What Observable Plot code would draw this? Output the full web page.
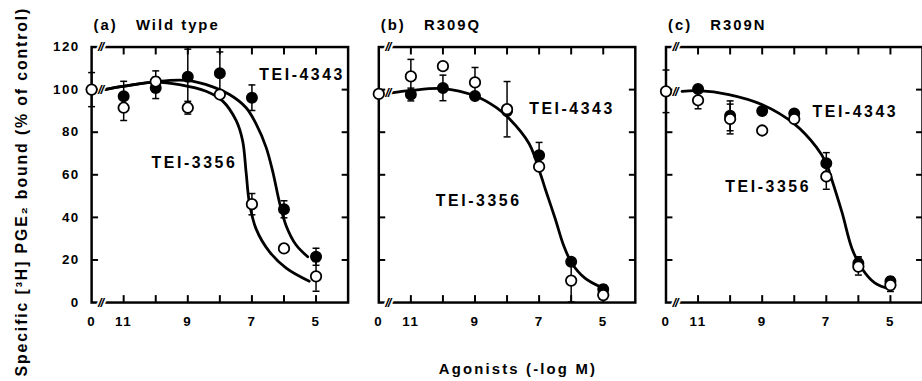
<!DOCTYPE html>
<html><head><meta charset="utf-8">
<script src="https://cdn.jsdelivr.net/npm/d3@7"></script>
<script src="https://cdn.jsdelivr.net/npm/@observablehq/plot@0.6"></script>
<style>
html,body{margin:0;padding:0;background:#fff;overflow:hidden;width:922px;height:381px}
#chart svg text{letter-spacing:1.5px}
#chart g[aria-description="lbl"] text{letter-spacing:2.6px}
#chart g[aria-description="ttl"] text{letter-spacing:2px}
#chart g[aria-description="ylab"] text{letter-spacing:1.9px}
#chart g[aria-description="xlab"] text{letter-spacing:2.2px}
#chart g[aria-description="brk"] text{letter-spacing:-1px}
</style></head><body><div id="chart"></div>
<script>
// ---- data ----
const panels = ["a", "b", "c"];
const titles = ["(a)\u00a0\u00a0 Wild type", "(b)\u00a0\u00a0 R309Q", "(c)\u00a0\u00a0 R309N"];
const doses = [12, 11, 10, 9, 8, 7, 6, 5]; // 12 = the "0" (no agonist) position after the axis break
const xTicks = [11, 10, 9, 8, 7, 6, 5];
const xTickLabels = [12, 11, 9, 7, 5];
const yTicks = [0, 20, 40, 60, 80, 100, 120];
const compounds = ["TEI-4343", "TEI-3356"]; // filled, open

// panel (a) Wild type
const a4343 = [null, 96.9, 100.8, 106, 107.7, 96.2, 43.8, 21.5];
const a4343Err = [0, 7, 5, 13, 10, 6, 4, 4];
const a3356 = [100, 91.5, 103.8, 91.5, 97.7, 46.2, 25.4, 12.3];
const a3356Err = [8, 6, 5, 3, 0, 5, 0, 7];
// panel (b) R309Q
const b4343 = [null, 97.7, 100.8, 97, 90, 69.2, 19.2, 6.2];
const b4343Err = [0, 3, 6, 0, 0, 6, 0, 2];
const b3356 = [98, 106.2, 111, 103.4, 90.8, 63.8, 10.3, 3.5];
const b3356Err = [0, 8, 0, 7, 13, 0, 10, 2];
// panel (c) R309N
const c4343 = [null, 100.3, 87.7, 90, 88.8, 65.4, 18.5, 10];
const c4343Err = [0, 0, 7, 0, 0, 5, 3, 2];
const c3356 = [99.2, 95, 86.2, 80.8, 86.2, 59.2, 16.9, 8.2];
const c3356Err = [10, 4, 7, 0, 0, 6, 4, 3];

// fitted curves
const aCurve4343X = [11.6, 11.03, 9.98, 9.04, 8.22, 7.7, 7.18, 6.87, 6.56, 6.35, 6.14, 5.93, 5.62, 5.26];
const aCurve4343Y = [100, 101.5, 103.8, 104.3, 101.3, 97.7, 91.5, 83.9, 73, 61.5, 47, 36, 27, 21.5];
const aCurve3356X = [11.6, 11.03, 9.98, 9.26, 8.43, 7.91, 7.49, 7.29, 7.18, 7.08, 6.87, 6.45, 5.93, 5.21];
const aCurve3356Y = [100, 101.5, 103.5, 102.3, 99.2, 94.6, 85.4, 76, 61, 47, 34.6, 23.8, 16.2, 10];
const bCurveX = [11.6, 11.03, 10.01, 8.99, 8.33, 7.92, 7.31, 6.95, 6.8, 6.49, 6.24, 5.98, 5.57, 5.06];
const bCurveY = [98.5, 99.5, 100.5, 97, 91.5, 86.2, 74.6, 60, 53, 39, 27, 18.5, 11.5, 7.2];
const cCurveX = [11.5, 11.0, 10.04, 9.01, 8.0, 7.31, 7.0, 6.86, 6.51, 6.2, 5.9, 5.49, 4.99];
const cCurveY = [99.2, 99.5, 97.7, 93, 83.9, 73, 65.4, 59.2, 42.3, 25.4, 16.2, 9.2, 6.2];

// curve labels
const labelPanel = ["a", "a", "b", "b", "c", "c"];
const labelText = ["TEI-4343", "TEI-3356", "TEI-4343", "TEI-3356", "TEI-4343", "TEI-3356"];
const labelX = [6.77, 10.13, 7.31, 10.22, 7.43, 10.15];
const labelY = [107, 65.5, 91, 47.7, 89.5, 54.3];

// axis-break positions
const breakX = 11.72;
const curveBreakY = [100, 98.3, 99];

// ---- build tables ----
const series = {
  a: [[a4343, a4343Err], [a3356, a3356Err]],
  b: [[b4343, b4343Err], [b3356, b3356Err]],
  c: [[c4343, c4343Err], [c3356, c3356Err]]
};
const points = [];
for (const p of panels) {
  series[p].forEach(([vals, errs], k) => {
    vals.forEach((v, i) => {
      if (v != null) points.push({panel: p, compound: compounds[k], filled: k === 0, dose: doses[i], value: v, err: errs[i]});
    });
  });
}
const errRows = points.filter(d => d.err > 0);
const capRows = errRows.flatMap(d => [{...d, y: d.value - d.err}, {...d, y: d.value + d.err}]);

const curves = [];
const addCurve = (panel, name, xs, ys) => xs.forEach((x, i) => curves.push({panel, name: panel + name, x, y: ys[i]}));
addCurve("a", "4343", aCurve4343X, aCurve4343Y);
addCurve("a", "3356", aCurve3356X, aCurve3356Y);
addCurve("b", "fit", bCurveX, bCurveY);
addCurve("c", "fit", cCurveX, cCurveY);

const labels = labelText.map((t, i) => ({panel: labelPanel[i], text: t, x: labelX[i], y: labelY[i]}));
const axisBreaks = panels.flatMap(p => [{panel: p, y: 0}, {panel: p, y: 120}]);
const curveBreaks = panels.map((p, i) => ({panel: p, y: curveBreakY[i]}));

const capSymbol = {draw(context) { context.moveTo(-3.5, 0); context.lineTo(3.5, 0); }};
const font = "'Liberation Sans', Arial, Helvetica, sans-serif";

const chart = Plot.plot({
  width: 931,
  height: 381,
  marginLeft: 92,
  marginRight: 0,
  marginTop: 47,
  marginBottom: 76,
  style: {fontFamily: font, fontWeight: "bold", fontSize: "13px", color: "black", background: "white"},
  fx: {domain: panels, paddingInner: 0.1069, paddingOuter: 0, axis: null},
  x: {domain: [12, 4], axis: null},
  y: {domain: [0, 120], axis: null},
  marks: [
    Plot.frame({strokeWidth: 2.5}),
    // inward ticks on all sides
    Plot.axisX({anchor: "bottom", ticks: xTicks, tickSize: -7, text: null, strokeWidth: 2}),
    Plot.axisX({anchor: "top", ticks: xTicks, tickSize: -7, text: null, strokeWidth: 2}),
    Plot.axisY({anchor: "left", ticks: yTicks.slice(1, -1), tickSize: -7, text: null, strokeWidth: 2, facetAnchor: null}),
    Plot.axisY({anchor: "right", ticks: yTicks.slice(1, -1), tickSize: -7, text: null, strokeWidth: 2, facetAnchor: null}),
    // tick labels
    Plot.axisX({anchor: "bottom", ticks: xTickLabels, tickSize: 0, tickPadding: 14, label: null,
      tickFormat: d => d === 12 ? "0" : String(d), fontSize: 13.5, fontWeight: "bold"}),
    Plot.axisY({anchor: "left", ticks: yTicks, tickSize: 0, tickPadding: 12, label: null, fontSize: 13.5, fontWeight: "bold"}),
    // axis breaks
    Plot.text(axisBreaks, {fx: "panel", x: () => breakX, y: "y", text: () => "//", fontSize: 13, fontWeight: "bold",
      fontStyle: "italic", fill: "black", stroke: "white", strokeWidth: 4, paintOrder: "stroke", ariaDescription: "brk"}),
    // error bars
    Plot.ruleX(errRows, {fx: "panel", x: "dose", y1: d => d.value - d.err, y2: d => d.value + d.err, strokeWidth: 1.5}),
    Plot.dot(capRows, {fx: "panel", x: "dose", y: "y", symbol: capSymbol, stroke: "black", strokeWidth: 1.5, fill: "none"}),
    // fitted curves
    Plot.line(curves, {fx: "panel", x: "x", y: "y", z: "name", curve: "catmull-rom", strokeWidth: 2.8, stroke: "black"}),
    Plot.text(curveBreaks, {fx: "panel", x: () => breakX, y: "y", text: () => "//", fontSize: 13, fontWeight: "bold",
      fontStyle: "italic", fill: "black", stroke: "white", strokeWidth: 3, paintOrder: "stroke", ariaDescription: "brk"}),
    // data points
    Plot.dot(points.filter(d => d.filled), {fx: "panel", x: "dose", y: "value", r: 5.3, fill: "black", stroke: "black", strokeWidth: 1.5}),
    Plot.dot(points.filter(d => !d.filled), {fx: "panel", x: "dose", y: "value", r: 5.3, fill: "white", stroke: "black", strokeWidth: 1.8}),
    // curve labels
    Plot.text(labels, {fx: "panel", x: "x", y: "y", text: "text", textAnchor: "start", fontSize: 16, fontWeight: "bold", ariaDescription: "lbl"}),
    // panel titles
    Plot.text(panels, {fx: d => d, text: (d, i) => titles[i], frameAnchor: "top-left", textAnchor: "start",
      lineAnchor: "bottom", dx: 2, dy: -17, fontSize: 15, fontWeight: "bold", ariaDescription: "ttl"}),
    // axis titles
    Plot.text(["Specific [³H] PGE₂ bound (% of control)"], {fx: () => "a", text: d => d, frameAnchor: "left", rotate: -90,
      dx: -70, dy: 17, lineAnchor: "middle", textAnchor: "middle", fontSize: 16, fontWeight: "bold", ariaDescription: "ylab"}),
    Plot.text(["Agonists (-log M)"], {fx: () => "b", text: d => d, frameAnchor: "bottom", dx: 11, dy: 67,
      lineAnchor: "middle", textAnchor: "middle", fontSize: 15, fontWeight: "bold", ariaDescription: "xlab"})
  ]
});
document.getElementById("chart").append(chart);
</script></body></html>
